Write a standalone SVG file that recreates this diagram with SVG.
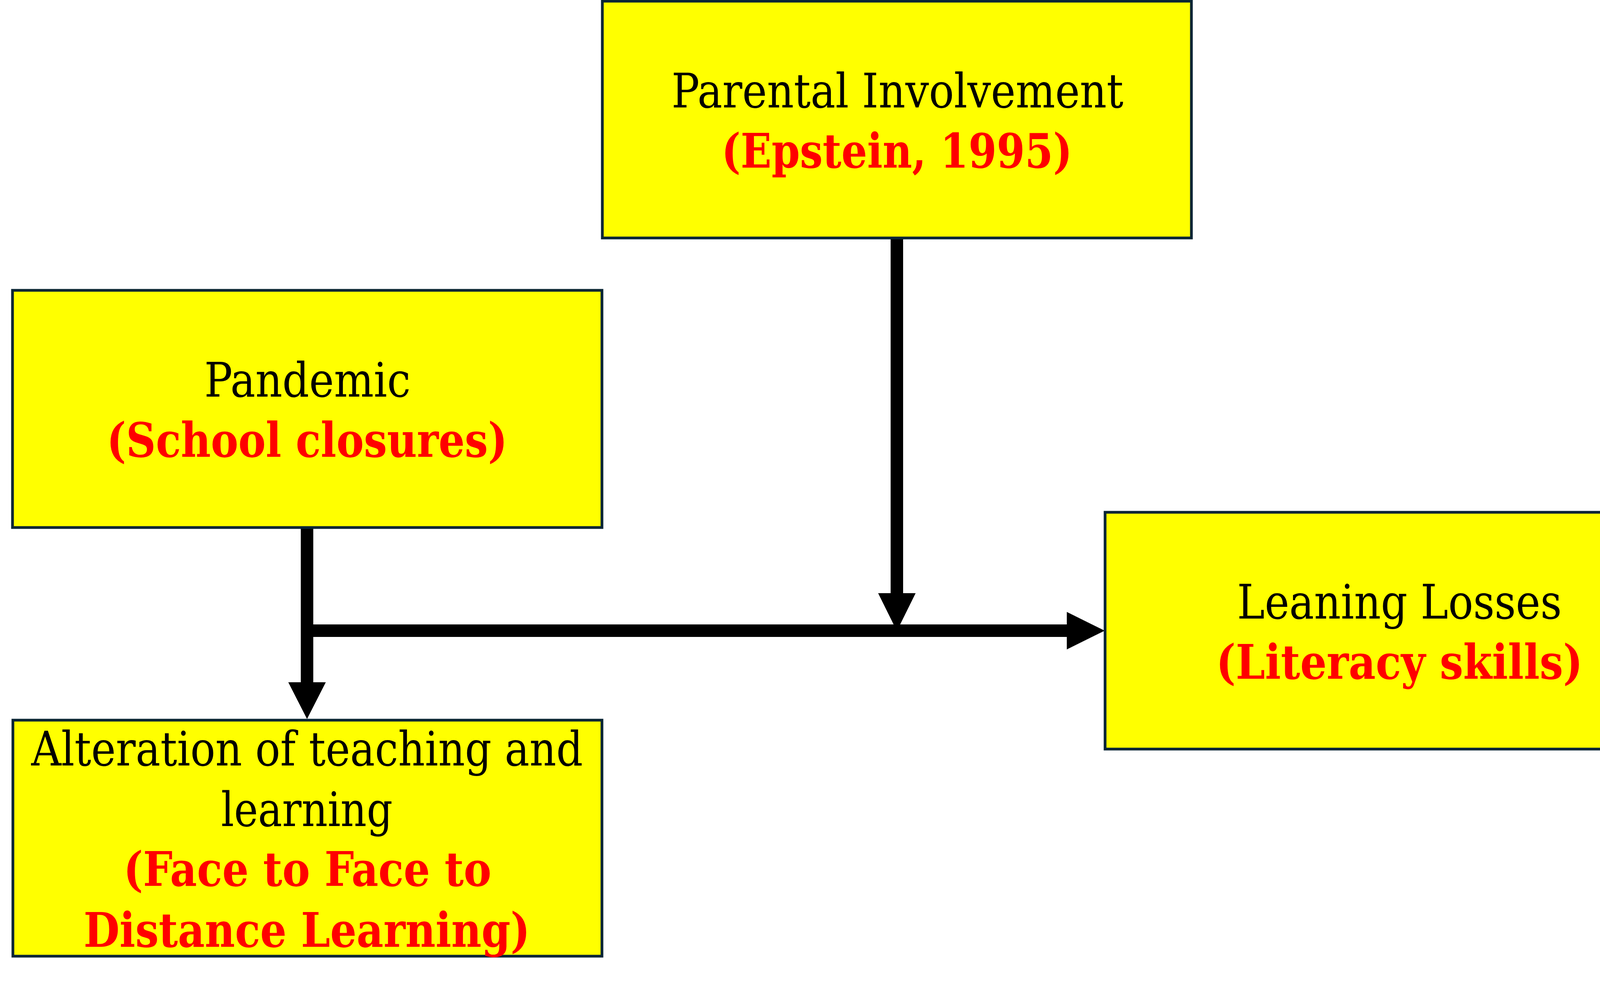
<svg xmlns="http://www.w3.org/2000/svg" width="4342" height="2531" viewBox="0 0 4342 2531">
<style>
.box{fill:#FFFF00;stroke:#082535;stroke-width:7}
.t{font-family:"DejaVu Serif Condensed","DejaVu Serif","Liberation Serif",serif;font-stretch:condensed;font-size:121px;fill:#000000}
.r{font-family:"DejaVu Serif Condensed","DejaVu Serif","Liberation Serif",serif;font-stretch:condensed;font-size:121px;font-weight:bold;fill:#FF0000}
.ln{stroke:#000000;stroke-width:32;fill:none}
.ah{fill:#000000}
</style>
<rect width="4342" height="2531" fill="#FFFFFF"/>
<g id="connectors">
<line class="ln" x1="2296" y1="609" x2="2296" y2="1530"/>
<polygon class="ah" points="2248,1518 2344,1518 2296,1615"/>
<line class="ln" x1="786" y1="1350" x2="786" y2="1760"/>
<polygon class="ah" points="738,1746 834,1746 786,1840"/>
<line class="ln" x1="786" y1="1614" x2="2745" y2="1614"/>
<polygon class="ah" points="2731,1566 2731,1662 2828,1614"/>
</g>
<g id="parental">
<rect class="box" x="1542" y="3" width="1508" height="606"/>
<text class="t" x="1719" y="275" textLength="1157" lengthAdjust="spacingAndGlyphs">Parental Involvement</text>
<text class="r" x="1847" y="429" textLength="898" lengthAdjust="spacingAndGlyphs">(Epstein, 1995)</text>
</g>
<g id="pandemic">
<rect class="box" x="32" y="743" width="1509" height="607"/>
<text class="t" x="523" y="1015" textLength="528" lengthAdjust="spacingAndGlyphs">Pandemic</text>
<text class="r" x="273" y="1169" textLength="1026" lengthAdjust="spacingAndGlyphs">(School closures)</text>
</g>
<g id="alteration">
<rect class="box" x="33" y="1843" width="1508" height="604"/>
<text class="t" x="80" y="1959" textLength="1412" lengthAdjust="spacingAndGlyphs">Alteration of teaching and</text>
<text class="t" x="566" y="2114" textLength="439" lengthAdjust="spacingAndGlyphs">learning</text>
<text class="r" x="316" y="2267" textLength="942" lengthAdjust="spacingAndGlyphs">(Face to Face to</text>
<text class="r" x="214" y="2423" textLength="1143" lengthAdjust="spacingAndGlyphs">Distance Learning)</text>
</g>
<g id="leaning">
<rect class="box" x="2829" y="1311" width="1509" height="606"/>
<text class="t" x="3167" y="1583" textLength="831" lengthAdjust="spacingAndGlyphs">Leaning Losses</text>
<text class="r" x="3113" y="1737" textLength="939" lengthAdjust="spacingAndGlyphs">(Literacy skills)</text>
</g>
</svg>
